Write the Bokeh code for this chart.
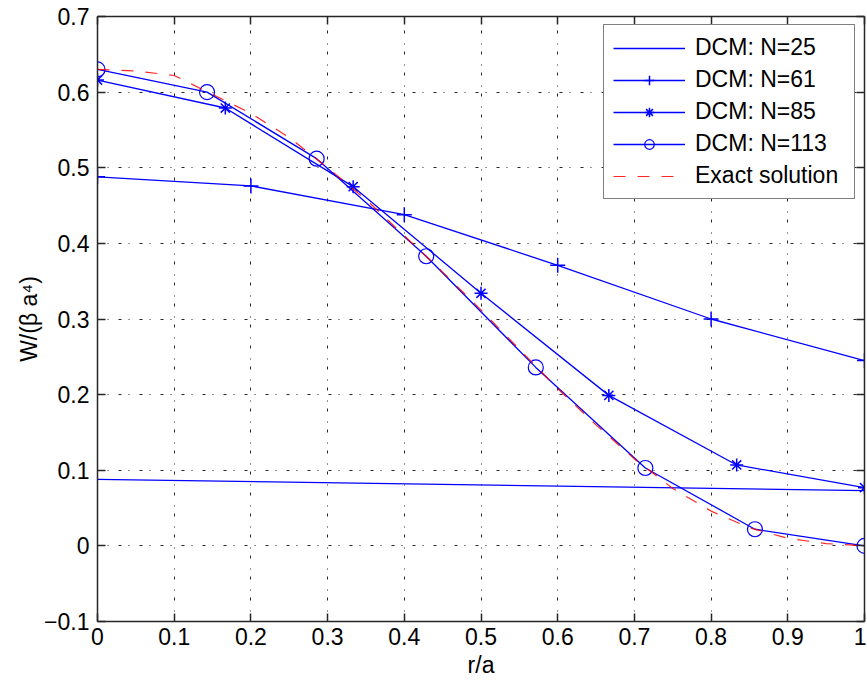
from bokeh.plotting import figure
from bokeh.models import LinearAxis, FixedTicker, Legend, LegendItem, Range1d
from bokeh.embed import file_html
from bokeh.resources import INLINE

# ---- data ----
x25 = [0.0, 1.0]
y25 = [0.088, 0.073]

x61 = [0.0, 0.2, 0.4, 0.6, 0.8, 1.0]
y61 = [0.488, 0.476, 0.438, 0.371, 0.300, 0.245]

x85 = [0.0, 1/6, 2/6, 3/6, 4/6, 5/6, 1.0]
y85 = [0.616, 0.579, 0.475, 0.334, 0.199, 0.107, 0.077]

x113 = [0.0, 1/7, 2/7, 3/7, 4/7, 5/7, 6/7, 1.0]
y113 = [0.630, 0.600, 0.512, 0.383, 0.236, 0.103, 0.022, 0.000]

x_exact = [0.0, 0.05, 0.1, 0.15, 0.2, 0.25, 0.3, 0.35, 0.4, 0.45, 0.5,
           0.55, 0.6, 0.65, 0.7, 0.75, 0.8, 0.85, 0.9, 0.95, 1.0]
y_exact = [0.630, 0.628, 0.622, 0.597, 0.572, 0.540, 0.500, 0.458, 0.410, 0.362, 0.312,
           0.260, 0.208, 0.160, 0.115, 0.076, 0.046, 0.024, 0.010, 0.003, 0.000]

x_ticks = [0.0, 0.1, 0.2, 0.3, 0.4, 0.5, 0.6, 0.7, 0.8, 0.9, 1.0]
x_tick_labels = ["0", "0.1", "0.2", "0.3", "0.4", "0.5", "0.6", "0.7", "0.8", "0.9", "1"]
y_ticks = [-0.1, 0.0, 0.1, 0.2, 0.3, 0.4, 0.5, 0.6, 0.7]
y_tick_labels = ["\u22120.1", "0", "0.1", "0.2", "0.3", "0.4", "0.5", "0.6", "0.7"]

labels = ["DCM: N=25", "DCM: N=61", "DCM: N=85", "DCM: N=113", "Exact solution"]

FONT = "Liberation Sans"
FS = "23px"
BLUE = "#0000ff"
RED = "#ff0000"
AX = "#262626"

p = figure(width=866, height=680, x_range=Range1d(0, 1), y_range=Range1d(-0.1, 0.7),
           output_backend="svg", toolbar_location=None,
           min_border_left=97, min_border_right=2, min_border_top=16, min_border_bottom=59)
p.outline_line_color = None
p.background_fill_color = "white"
p.border_fill_color = "white"

def style_axis(ax, ticks, tick_labels, show_labels=True):
    ax.ticker = FixedTicker(ticks=ticks)
    ax.major_label_overrides = {t: l for t, l in zip(ticks, tick_labels)}
    ax.major_tick_in = 8
    ax.major_tick_out = 0
    ax.minor_tick_line_color = None
    ax.axis_line_color = AX
    ax.axis_line_width = 1.5
    ax.major_tick_line_color = AX
    ax.major_tick_line_width = 1.5
    ax.major_label_text_font = FONT
    ax.major_label_text_font_size = FS if show_labels else "0px"
    ax.major_label_text_color = "black"
    ax.axis_label_text_font = FONT
    ax.axis_label_text_font_size = FS
    ax.axis_label_text_font_style = "normal"
    ax.axis_label_text_color = "black"

xa = p.xaxis[0]
ya = p.yaxis[0]
style_axis(xa, x_ticks, x_tick_labels)
style_axis(ya, y_ticks, y_tick_labels)
xa.axis_label = "r/a"
ya.axis_label = "W/(\u03b2 a\u2074)"
xa.major_label_standoff = 6
xa.axis_label_standoff = 4
ya.major_label_standoff = 8
ya.axis_label_standoff = -1

top = LinearAxis()
style_axis(top, x_ticks, x_tick_labels, show_labels=False)
top.major_label_standoff = 0
p.add_layout(top, "above")
right = LinearAxis()
style_axis(right, y_ticks, y_tick_labels, show_labels=False)
right.major_label_standoff = 0
p.add_layout(right, "right")

for g in (p.xgrid[0], p.ygrid[0]):
    g.grid_line_color = "black"
    g.grid_line_alpha = 0.85
    g.grid_line_dash = "3 7 1 10"
    g.grid_line_width = 1
p.xgrid[0].ticker = FixedTicker(ticks=x_ticks)
p.ygrid[0].ticker = FixedTicker(ticks=y_ticks)

LW = 1.3
r25 = p.line(x25, y25, line_color=BLUE, line_width=LW)
r61 = p.line(x61, y61, line_color=BLUE, line_width=LW)
m61 = p.scatter(x61, y61, marker="cross", size=15, line_color=BLUE, fill_color=BLUE, line_width=1.5)
r85 = p.line(x85, y85, line_color=BLUE, line_width=LW)
m85 = p.scatter(x85, y85, marker="asterisk", size=13, line_color=BLUE, fill_color=BLUE, line_width=1.5)
r113 = p.line(x113, y113, line_color=BLUE, line_width=LW)
m113 = p.scatter(x113, y113, marker="circle", size=15, line_color=BLUE, fill_color=None, line_width=1.2)
rex = p.line(x_exact, y_exact, line_color=RED, line_width=1.2, line_dash="12 12", line_alpha=0.85)

legend = Legend(items=[
    LegendItem(label=labels[0], renderers=[r25]),
    LegendItem(label=labels[1], renderers=[r61, m61]),
    LegendItem(label=labels[2], renderers=[r85, m85]),
    LegendItem(label=labels[3], renderers=[r113, m113]),
    LegendItem(label=labels[4], renderers=[rex]),
], location=(506, 422))
legend.margin = 0
legend.padding = 9
legend.spacing = 5
legend.glyph_width = 72
legend.glyph_height = 24
legend.label_height = 24
legend.label_width = 150
legend.label_standoff = 10
legend.label_text_font = FONT
legend.label_text_font_size = FS
legend.label_text_color = "black"
legend.border_line_color = "black"
legend.border_line_width = 1.2
legend.background_fill_color = "white"
legend.background_fill_alpha = 1.0
p.add_layout(legend, "center")

open("out.html", "w").write(file_html(p, INLINE))
